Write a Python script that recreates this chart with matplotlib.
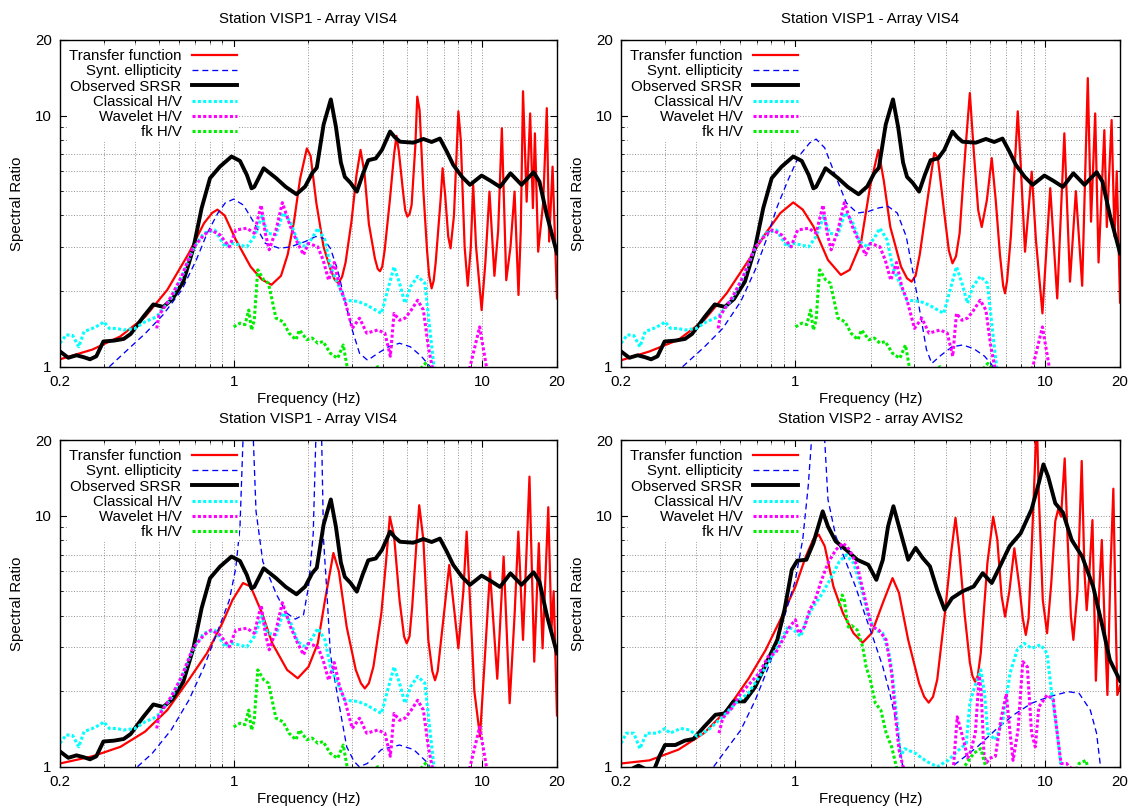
import matplotlib
matplotlib.use("Agg")
import matplotlib.pyplot as plt
from matplotlib.ticker import FixedLocator, FixedFormatter, NullFormatter

plt.rcParams["font.family"] = ["Liberation Sans", "DejaVu Sans"]
plt.rcParams["font.size"] = 10.8

# ---------------------------------------------------------------------------
# Station VISP1: observed curves (shared by the three VISP1 panels)
# ---------------------------------------------------------------------------
srsr1_f = [0.2, 0.216, 0.233, 0.25, 0.264, 0.28, 0.299, 0.33, 0.361, 0.385,
           0.433, 0.475, 0.521, 0.567, 0.627, 0.688, 0.743, 0.803, 0.88, 0.98,
           1.06, 1.13, 1.18, 1.21, 1.32, 1.48, 1.62, 1.79, 1.94, 2.07, 2.16,
           2.3, 2.46, 2.58, 2.7, 2.8, 2.95, 3.13, 3.3, 3.48, 3.73, 3.95, 4.26,
           4.45, 4.67, 5.28, 5.8, 6.26, 6.76, 7.2, 7.65, 8.3, 8.93, 9.95, 10.8,
           11.8, 13.0, 14.4, 16.1, 17.0, 18.2, 20.0]
srsr1_v = [1.15, 1.085, 1.11, 1.09, 1.07, 1.1, 1.26, 1.27, 1.29, 1.35,
           1.58, 1.77, 1.73, 1.86, 2.18, 2.96, 4.28, 5.63, 6.26, 6.87,
           6.6, 5.8, 5.13, 5.2, 6.17, 5.64, 5.2, 4.86, 5.22, 5.9, 6.2,
           9.2, 11.6, 9.0, 6.5, 5.7, 5.4, 4.98, 5.8, 6.64, 6.75, 7.3, 8.64,
           8.2, 7.87, 7.8, 8.07, 7.85, 8.1, 7.2, 6.36, 5.7, 5.3, 5.77, 5.5,
           5.2, 5.89, 5.3, 5.95, 5.46, 4.02, 2.83]

classic1_f = [0.2, 0.212, 0.225, 0.238, 0.25, 0.27, 0.29, 0.3, 0.316, 0.338,
              0.361, 0.40, 0.44, 0.49, 0.56, 0.62, 0.684, 0.757, 0.84, 0.925,
              0.98, 1.06, 1.13, 1.21, 1.3, 1.37, 1.48, 1.58, 1.69, 1.81, 1.94,
              2.07, 2.18, 2.33, 2.45, 2.62, 2.8, 3.16, 3.43, 3.93, 4.2, 4.42,
              4.65, 4.89, 5.14, 5.5, 5.88, 6.18, 6.4, 6.7]
classic1_v = [1.24, 1.34, 1.33, 1.2, 1.38, 1.42, 1.47, 1.51, 1.42, 1.42,
              1.40, 1.42, 1.51, 1.58, 1.87, 2.29, 2.92, 3.4, 3.5, 3.0,
              3.1, 3.05, 3.0, 3.3, 3.97, 3.4, 3.35, 4.1, 3.79, 3.15, 3.0,
              3.25, 3.56, 3.2, 2.5, 2.15, 1.84, 1.82, 1.76, 1.63, 2.08, 2.5,
              2.15, 1.79, 2.08, 2.29, 2.15, 1.36, 1.0, 0.8]

wavelet1_f = [0.49, 0.5, 0.56, 0.618, 0.684, 0.76, 0.81, 0.88, 0.96, 1.02,
              1.13, 1.21, 1.29, 1.34, 1.39, 1.48, 1.57, 1.69, 1.81, 1.91, 2.0,
              2.18, 2.29, 2.41, 2.54, 2.67, 2.8, 3.0, 3.21, 3.43, 3.8, 4.06,
              4.27, 4.42, 4.65, 4.89, 5.14, 5.5, 5.8, 6.07, 6.29, 7.5, 8.94,
              9.77, 10.4, 11.0]
wavelet1_v = [1.42, 1.6, 1.9, 2.29, 2.96, 3.35, 3.5, 3.35, 3.0, 3.5,
              3.56, 3.4, 4.4, 3.4, 2.92, 3.5, 4.5, 3.62, 3.1, 2.79, 3.1,
              3.0, 2.66, 2.21, 2.6, 2.08, 1.84, 1.42, 1.56, 1.36, 1.40, 1.36,
              1.1, 1.63, 1.53, 1.56, 1.66, 1.84, 1.68, 1.2, 1.0, 0.7, 1.0,
              1.44, 1.0, 0.8]

fk1_f = [1.0, 1.06, 1.11, 1.15, 1.18, 1.21, 1.25, 1.32, 1.38, 1.48, 1.58,
         1.67, 1.78, 1.84, 1.97, 2.07, 2.18, 2.29, 2.45, 2.62, 2.76, 2.86,
         3.2, 3.8, 4.2, 5.0, 5.6, 5.9, 6.2, 6.6]
fk1_v = [1.44, 1.49, 1.47, 1.68, 1.40, 1.53, 2.43, 2.22, 2.15, 1.56, 1.51,
         1.36, 1.28, 1.40, 1.28, 1.3, 1.24, 1.26, 1.13, 1.08, 1.22, 1.0,
         0.85, 1.0, 0.9, 0.85, 0.97, 1.03, 0.97, 0.85]

# ---------------------------------------------------------------------------
# Station VISP1: three velocity models (transfer function + ellipticity)
# ---------------------------------------------------------------------------
tf_a_f = [0.2, 0.27, 0.35, 0.44, 0.54, 0.66, 0.76, 0.82, 0.86, 0.92, 1.02,
          1.17, 1.3, 1.42, 1.55, 1.65, 1.75, 1.85, 1.97, 2.04, 2.15, 2.3,
          2.45, 2.55, 2.64, 2.73, 2.82, 2.98, 3.12, 3.24, 3.36, 3.5, 3.7,
          3.8, 3.88, 3.96, 4.05, 4.25, 4.42, 4.52, 4.62, 4.8, 4.9, 5.0, 5.1,
          5.2, 5.38, 5.48, 5.6, 5.8, 6.0, 6.12, 6.26, 6.38, 6.5, 6.8, 6.93,
          7.1, 7.3, 7.46, 7.7, 8.02, 8.2, 8.5, 8.75, 9.0, 9.2, 9.45, 9.95,
          10.3, 10.7, 11.2, 11.6, 12.0, 12.5, 13.0, 13.5, 14.0, 14.3, 14.6,
          15.1, 15.6, 16.0, 16.3, 16.8, 17.6, 18.2, 18.6, 19.2, 20.0]
tf_a_v = [1.07, 1.17, 1.32, 1.58, 2.02, 2.83, 3.73, 4.1, 4.22, 4.0, 3.2,
          2.5, 2.22, 2.12, 2.3, 2.8, 3.8, 5.6, 7.4, 6.9, 4.5, 3.0,
          2.45, 2.22, 2.15, 2.28, 2.6, 3.8, 5.8, 7.3, 5.9, 3.7, 2.7,
          2.45, 2.4, 2.5, 2.9, 4.6, 7.0, 8.3, 7.2, 5.0, 4.2, 3.96, 4.05,
          4.4, 7.5, 11.9, 10.5, 5.0, 2.9, 2.3, 2.05, 2.2, 2.6, 4.6, 6.17,
          4.8, 3.3, 2.96, 4.0, 10.4, 8.0, 3.0, 2.1, 3.0, 5.3, 3.0, 1.68,
          2.6, 4.98, 2.3, 3.5, 8.9, 2.21, 3.0, 4.98, 1.93, 3.5, 12.5,
          4.54, 10.2, 4.28, 8.5, 2.87, 4.5, 10.7, 3.15, 6.26, 1.87]
ell_a_f = [0.316, 0.361, 0.442, 0.52, 0.618, 0.707, 0.782, 0.865, 0.925, 1.0,
           1.095, 1.21, 1.34, 1.53, 1.69, 1.94, 2.14, 2.29, 2.45, 2.62, 2.8,
           3.0, 3.21, 3.46, 3.8, 4.2, 4.65, 5.14, 5.69, 6.18, 6.6]
ell_a_v = [1.0, 1.13, 1.36, 1.61, 2.02, 2.66, 3.4, 4.1, 4.49, 4.65,
           4.4, 3.73, 3.1, 2.96, 3.0, 3.15, 3.3, 3.25, 2.96, 2.43, 1.84,
           1.40, 1.13, 1.06, 1.13, 1.2, 1.24, 1.2, 1.1, 1.0, 0.85]

tf_b_f = [0.2, 0.26, 0.34, 0.43, 0.53, 0.65, 0.76, 0.87, 0.98, 1.07, 1.18,
          1.35, 1.52, 1.65, 1.83, 1.99, 2.15, 2.26, 2.4, 2.65, 2.8, 2.92,
          3.03, 3.15, 3.38, 3.6, 3.72, 3.96, 4.12, 4.26, 4.4, 4.55, 4.8, 5.0,
          5.18, 5.4, 5.58, 5.85, 6.12, 6.35, 6.6, 6.8, 6.92, 7.05, 7.3, 7.78,
          8.0, 8.32, 8.85, 9.2, 9.77, 10.5, 11.2, 11.96, 12.6, 13.3, 14.1,
          14.85, 15.3, 15.9, 16.4, 17.3, 17.7, 18.5, 19.0, 19.4, 20.0]
tf_b_v = [1.06, 1.15, 1.28, 1.53, 1.96, 2.66, 3.4, 4.09, 4.51, 4.22, 3.62,
          2.66, 2.32, 2.43, 3.1, 5.2, 7.3, 5.5, 3.6, 2.5, 2.25, 2.18,
          2.3, 2.8, 4.6, 7.1, 6.8, 4.0, 2.9, 2.58, 2.75, 3.4, 7.3, 12.3,
          7.3, 4.2, 3.6, 4.6, 6.77, 4.6, 2.8, 2.1, 1.96, 2.2, 3.3, 10.4,
          6.3, 2.87, 5.98, 3.2, 1.63, 5.14, 1.87, 8.5, 2.18, 5.0, 2.1,
          14.1, 3.78, 10.2, 2.6, 8.75, 3.6, 9.6, 3.3, 6.0, 1.8]
ell_b_f = [0.353, 0.432, 0.511, 0.604, 0.69, 0.764, 0.846, 0.935, 1.03, 1.14,
           1.21, 1.31, 1.45, 1.6, 1.77, 1.96, 2.16, 2.35, 2.56, 2.78, 2.98,
           3.18, 3.35, 3.52, 3.83, 4.24, 4.68, 5.18, 5.73, 6.12, 6.5]
ell_b_v = [1.0, 1.2, 1.42, 1.82, 2.43, 3.2, 4.35, 5.55, 6.87, 7.78,
           8.06, 7.44, 5.73, 4.49, 4.09, 4.15, 4.29, 4.35, 4.09, 3.3, 2.29,
           1.58, 1.17, 1.03, 1.11, 1.2, 1.22, 1.18, 1.1, 1.02, 0.85]

tf_c_f = [0.2, 0.27, 0.35, 0.44, 0.54, 0.66, 0.78, 0.9, 0.99, 1.09, 1.17,
          1.3, 1.43, 1.64, 1.81, 2.0, 2.18, 2.33, 2.52, 2.65, 2.85, 3.1,
          3.25, 3.37, 3.5, 3.65, 3.93, 4.1, 4.25, 4.42, 4.65, 4.85, 4.97,
          5.1, 5.23, 5.45, 5.58, 5.8, 6.07, 6.3, 6.46, 6.62, 7.0, 7.37, 7.7,
          8.02, 8.4, 8.66, 8.94, 9.3, 9.8, 10.2, 10.75, 11.5, 12.2, 12.9,
          13.5, 13.98, 14.6, 15.5, 16.2, 16.9, 17.5, 18.45, 19.0, 19.4, 20.0]
tf_c_v = [1.03, 1.1, 1.2, 1.38, 1.68, 2.22, 2.83, 3.73, 4.62, 5.39, 5.22,
          4.09, 3.1, 2.43, 2.25, 2.5, 3.1, 4.6, 7.1, 6.0, 3.6, 2.43,
          2.15, 2.05, 2.15, 2.5, 4.1, 6.5, 9.9, 8.3, 4.6, 3.3, 3.1,
          3.3, 4.35, 8.0, 11.0, 8.0, 3.2, 2.4, 2.21, 2.4, 3.97, 6.36, 4.3,
          2.96, 5.0, 8.64, 4.5, 2.0, 1.32, 2.5, 5.98, 2.24, 6.87, 1.79,
          4.0, 8.64, 3.2, 14.3, 2.62, 7.77, 2.96, 10.8, 3.5, 5.0, 1.6]
ell_c_f = [0.41, 0.47, 0.56, 0.66, 0.76, 0.865, 0.96, 1.02, 1.06, 1.09, 1.13,
           1.17, 1.2, 1.23, 1.31, 1.49, 1.63, 1.77, 1.91, 2.0, 2.09, 2.14,
           2.2, 2.24, 2.26, 2.3, 2.37, 2.45, 2.6, 2.85, 3.05, 3.2, 3.45, 3.93,
           4.65, 5.3, 6.07, 6.4]
ell_c_v = [1.0, 1.13, 1.4, 1.84, 2.5, 3.5, 4.6, 6.2, 9.0, 20.0, 60.0,
           35.0, 20.0, 10.4, 6.56, 4.83, 4.1, 3.87, 4.03, 5.2, 8.5, 20.0,
           60.0, 30.0, 20.0, 8.0, 5.0, 2.8, 1.99, 1.2, 1.05, 1.0, 1.03, 1.17,
           1.22, 1.17, 1.03, 0.9]

# ---------------------------------------------------------------------------
# Station VISP2 - array AVIS2
# ---------------------------------------------------------------------------
srsr2_f = [0.2, 0.225, 0.235, 0.25, 0.27, 0.285, 0.3, 0.33, 0.36, 0.39, 0.43,
           0.478, 0.52, 0.565, 0.625, 0.69, 0.764, 0.846, 0.904, 0.967, 1.017,
           1.106, 1.18, 1.286, 1.35, 1.45, 1.6, 1.77, 1.96, 2.11, 2.24, 2.35,
           2.47, 2.6, 2.83, 3.03, 3.24, 3.46, 3.7, 3.96, 4.24, 4.68, 5.18,
           5.63, 6.12, 6.55, 7.22, 7.99, 8.84, 9.45, 9.86, 10.3, 11.0, 11.8,
           12.8, 14.1, 15.6, 17.0, 18.2, 20.0]
srsr2_v = [0.93, 0.99, 1.01, 0.98, 0.96, 1.1, 1.22, 1.22, 1.27, 1.29, 1.44,
           1.61, 1.63, 1.82, 1.82, 2.08, 2.58, 3.2, 4.22, 6.09, 6.62,
           6.67, 7.78, 10.4, 9.05, 7.9, 7.3, 6.67, 6.37, 5.55, 6.67, 9.05,
           10.9, 9.05, 6.67, 7.44, 6.77, 6.28, 5.06, 4.22, 4.69, 5.0, 5.22,
           5.9, 5.39, 6.18, 7.56, 8.5, 10.6, 13.5, 16.0, 14.3, 11.2, 10.3,
           8.0, 6.87, 5.22, 3.62, 2.66, 2.2]

classic2_f = [0.2, 0.21, 0.225, 0.238, 0.253, 0.28, 0.3, 0.314, 0.347, 0.378,
              0.404, 0.447, 0.511, 0.585, 0.646, 0.74, 0.846, 0.935, 1.0, 1.05,
              1.106, 1.18, 1.26, 1.375, 1.5, 1.6, 1.71, 1.83, 1.96, 2.09, 2.24,
              2.39, 2.47, 2.56, 2.64, 2.74, 3.03, 3.35, 3.7, 4.09, 4.53, 4.84,
              5.0, 5.18, 5.53, 5.73, 5.9, 6.33, 6.78, 7.25, 7.74, 8.26, 8.85,
              9.6, 10.2, 10.6, 11.2, 11.6, 12.0]
classic2_v = [1.24, 1.36, 1.36, 1.18, 1.36, 1.36, 1.42, 1.36, 1.42, 1.40,
              1.32, 1.40, 1.58, 1.82, 1.96, 2.39, 3.0, 3.62, 3.46, 3.3,
              3.85, 4.35, 4.77, 5.55, 6.57, 6.98, 6.47, 5.22, 3.97, 3.5, 3.4,
              2.75, 2.15, 1.49, 1.1, 1.18, 1.13, 1.05, 1.0, 1.06, 1.17, 1.24,
              1.79, 2.02, 2.43, 1.96, 1.36, 1.28, 1.53, 2.36, 2.92, 3.1, 2.96,
              3.06, 2.83, 2.02, 1.36, 1.0, 0.8]

wavelet2_f = [0.494, 0.511, 0.556, 0.604, 0.658, 0.715, 0.778, 0.832, 0.889,
              0.95, 1.0, 1.03, 1.09, 1.14, 1.2, 1.26, 1.35, 1.45, 1.55, 1.65,
              1.77, 1.89, 2.02, 2.16, 2.31, 2.43, 2.52, 2.6, 2.7, 3.5, 4.3,
              4.45, 4.6, 4.75, 4.9, 5.05, 5.26, 5.45, 5.55, 5.7, 5.85, 6.0, 6.33,
              6.65, 7.0, 7.25, 7.45, 7.8, 8.15, 8.5, 8.84, 9.15, 9.45, 10.2,
              10.8, 11.2, 11.6, 12.2, 12.8, 13.2]
wavelet2_v = [1.36, 1.56, 1.71, 1.96, 2.15, 2.36, 2.75, 2.83, 3.2,
              3.62, 3.85, 3.4, 3.62, 4.22, 4.62, 5.39, 6.47, 7.3, 7.78, 7.3,
              6.28, 4.77, 3.62, 3.5, 3.2, 2.36, 1.58, 1.17, 1.0, 0.7, 1.0,
              1.58, 1.4, 1.24, 1.08, 1.16, 1.36, 2.3, 2.0, 1.1, 1.04, 1.08, 1.1,
              1.53, 1.95, 1.36, 1.06, 1.4, 2.62, 2.5, 1.36, 1.2, 1.73, 1.93,
              1.85, 1.36, 1.03, 1.03, 0.98, 0.9]

fk2_f = [1.5, 1.54, 1.57, 1.6, 1.63, 1.68, 1.77, 1.86, 1.92, 2.0, 2.09, 2.2,
         2.31, 2.43, 2.52, 2.6, 3.5, 4.68, 5.18, 5.53, 5.82, 6.5, 13.0, 13.7,
         14.6, 15.0]
fk2_v = [4.35, 4.83, 4.6, 4.0, 3.6, 3.65, 3.5, 3.0, 2.5, 2.2, 1.79, 1.68,
         1.36, 1.2, 1.03, 0.9, 0.7, 0.98, 1.13, 1.18, 0.98, 0.8, 0.9, 1.03,
         1.06, 0.95]

tf_d_f = [0.2, 0.26, 0.34, 0.43, 0.53, 0.65, 0.76, 0.87, 1.0, 1.1, 1.18,
          1.24, 1.31, 1.42, 1.55, 1.71, 1.86, 2.02, 2.24, 2.45, 2.6, 2.83,
          3.13, 3.28, 3.42, 3.56, 3.7, 3.96, 4.2, 4.38, 4.53, 4.76, 5.0, 5.12,
          5.25, 5.38, 5.53, 5.88, 6.2, 6.44, 6.7, 6.92, 7.2, 7.54, 7.9, 8.15,
          8.38, 8.6, 8.84, 9.1, 9.27, 9.45, 9.8, 10.2, 10.6, 11.0, 11.3, 11.6,
          12.0, 12.3, 12.7, 13.0, 13.5, 14.04, 14.4, 14.7, 15.0, 15.5, 16.0,
          16.5, 16.9, 17.3, 17.8, 18.3, 18.8, 19.2, 19.5, 20.0]
tf_d_v = [1.03, 1.06, 1.17, 1.36, 1.68, 2.25, 2.92, 3.85, 5.22, 6.87, 8.06,
          8.4, 7.56, 5.22, 4.09, 3.4, 3.12, 3.4, 4.49, 5.64, 4.92, 3.2,
          2.15, 1.9, 1.8, 1.9, 2.22, 3.97, 7.0, 9.8, 7.3, 4.09, 2.6, 2.3,
          2.18, 2.3, 2.83, 6.47, 9.9, 8.06, 4.8, 3.96, 5.0, 7.41, 5.2, 3.9,
          3.35, 3.9, 7.3, 15.0, 25.0, 12.0, 4.62, 3.4, 5.39, 9.5, 10.6, 9.9,
          16.9, 8.5, 4.0, 3.2, 5.0, 16.5, 6.0, 4.2, 5.5, 9.6, 2.2,
          5.0, 8.0, 4.0, 1.93, 6.0, 12.8, 4.0, 1.93, 2.1]
ell_d_f = [0.47, 0.528, 0.604, 0.69, 0.79, 0.904, 1.0, 1.07, 1.125, 1.16,
           1.2, 1.24, 1.28, 1.31, 1.35, 1.45, 1.6, 1.74, 1.89, 2.06, 2.24,
           2.39, 2.56, 2.69, 3.4, 4.24, 5.36, 6.33, 7.5, 8.84, 10.4, 12.4,
           13.7, 15.2, 16.1, 16.7, 17.2]
ell_d_v = [1.0, 1.17, 1.4, 1.84, 2.58, 3.97, 5.55, 8.06, 13.1, 20.0,
           45.0, 45.0, 25.0, 20.0, 11.6, 8.3, 6.47, 5.22, 4.09, 3.2, 2.5,
           1.96, 1.44, 1.0, 0.7, 1.0, 1.2, 1.4, 1.61, 1.79, 1.9, 1.99,
           1.96, 1.68, 1.36, 1.0, 0.8]

titles = ["Station VISP1 - Array VIS4", "Station VISP1 - Array VIS4",
          "Station VISP1 - Array VIS4", "Station VISP2 - array AVIS2"]

labels = ["Transfer function", "Synt. ellipticity", "Observed SRSR",
          "Classical H/V", "Wavelet H/V", "fk H/V"]

# series in drawing order: (frequency, value) pairs per panel
panels = [
    [(tf_a_f, tf_a_v), (ell_a_f, ell_a_v), (srsr1_f, srsr1_v),
     (classic1_f, classic1_v), (wavelet1_f, wavelet1_v), (fk1_f, fk1_v)],
    [(tf_b_f, tf_b_v), (ell_b_f, ell_b_v), (srsr1_f, srsr1_v),
     (classic1_f, classic1_v), (wavelet1_f, wavelet1_v), (fk1_f, fk1_v)],
    [(tf_c_f, tf_c_v), (ell_c_f, ell_c_v), (srsr1_f, srsr1_v),
     (classic1_f, classic1_v), (wavelet1_f, wavelet1_v), (fk1_f, fk1_v)],
    [(tf_d_f, tf_d_v), (ell_d_f, ell_d_v), (srsr2_f, srsr2_v),
     (classic2_f, classic2_v), (wavelet2_f, wavelet2_v), (fk2_f, fk2_v)],
]

dot = (0, (1.0, 0.75))
styles = [
    dict(color="#ff0000", lw=1.6, ls="-"),
    dict(color="#0000ff", lw=0.95, ls=(0, (4.5, 3.0))),
    dict(color="black", lw=2.8, ls="-"),
    dict(color="#00ffff", lw=2.2, ls=dot),
    dict(color="#ff00ff", lw=2.2, ls=dot),
    dict(color="#00ee00", lw=2.2, ls=dot),
]

fig = plt.figure(figsize=(11.3, 8.08), dpi=100)
positions = [
    [0.0531, 0.5462, 0.4398, 0.4043],
    [0.5496, 0.5462, 0.4416, 0.4043],
    [0.0531, 0.0511, 0.4398, 0.4043],
    [0.5496, 0.0511, 0.4416, 0.4043],
]

for pos, title, series in zip(positions, titles, panels):
    ax = fig.add_axes(pos)
    for (f, v), style, label in zip(series, styles, labels):
        ax.plot(f, v, label=label, solid_joinstyle="round",
                dash_joinstyle="round", **style)

    ax.set_xscale("log")
    ax.set_yscale("log")
    ax.set_xlim(0.2, 20)
    ax.set_ylim(1, 20)

    ax.xaxis.set_major_locator(FixedLocator([0.2, 1, 10, 20]))
    ax.xaxis.set_major_formatter(FixedFormatter(["0.2", "1", "10", "20"]))
    ax.xaxis.set_minor_locator(FixedLocator(
        [0.3, 0.4, 0.5, 0.6, 0.7, 0.8, 0.9, 2, 3, 4, 5, 6, 7, 8, 9]))
    ax.xaxis.set_minor_formatter(NullFormatter())
    ax.yaxis.set_major_locator(FixedLocator([1, 10, 20]))
    ax.yaxis.set_major_formatter(FixedFormatter(["1", "10", "20"]))
    ax.yaxis.set_minor_locator(FixedLocator([2, 3, 4, 5, 6, 7, 8, 9]))
    ax.yaxis.set_minor_formatter(NullFormatter())

    ax.tick_params(which="both", direction="in", top=True, right=True)
    ax.tick_params(which="major", length=4.8, width=0.8, pad=6)
    ax.tick_params(which="minor", length=2.4, width=0.6)
    ax.grid(True, which="both", color="#808080", lw=0.65, ls=(0, (1, 2)))
    for spine in ax.spines.values():
        spine.set_linewidth(1.0)

    ax.set_xlabel("Frequency (Hz)", labelpad=2)
    ax.set_ylabel("Spectral Ratio", labelpad=8)
    ax.set_title(title, fontsize=10.8, pad=12)

    # gnuplot-style key: right-aligned text, sample on the right, no border
    leg = ax.legend(loc="upper left", markerfirst=False, frameon=True,
                    fancybox=False, framealpha=1, edgecolor="none",
                    handlelength=2.95, handletextpad=0.72, labelspacing=0.085,
                    borderpad=0.15, borderaxespad=0.45)
    leg.get_frame().set_linewidth(0)

fig.savefig("out.png", dpi=100)
